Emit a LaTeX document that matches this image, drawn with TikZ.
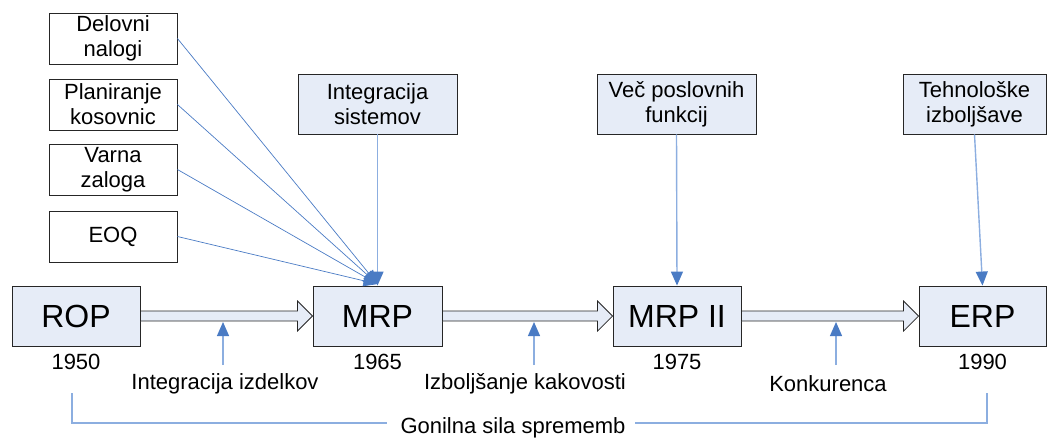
\documentclass[tikz,border=0pt]{standalone}
\usepackage{fontspec}
\setmainfont{Liberation Sans}
\usetikzlibrary{calc,arrows.meta}

\definecolor{boxfill}{HTML}{E6ECF7}
\definecolor{linkblue}{HTML}{4A7BC4}
\definecolor{lightlink}{HTML}{8CAEE0}

% hollow block arrow between two stage boxes
\newcommand\stagearrow[2]{%
  \draw[blockarrow] ($(#1.east)+(0,-5)$) -- ($(#2.west)+(-15,-5)$)
    -- ($(#2.west)+(-15,-15)$) -- (#2.west) -- ($(#2.west)+(-15,15)$)
    -- ($(#2.west)+(-15,5)$) -- ($(#1.east)+(0,5)$) -- cycle;}

\begin{document}
\begin{tikzpicture}[x=1pt,y=-1pt,
  every node/.style={font=\fontsize{22}{25}\selectfont, inner sep=0pt},
  srcbox/.style={draw=black!85, line width=0.9pt, fill=white,
    minimum width=128pt, minimum height=51pt, align=center},
  topbox/.style={draw=black!85, line width=0.9pt, fill=boxfill,
    minimum width=159pt, minimum height=60pt, align=center},
  stage/.style={draw=black!85, line width=0.9pt, fill=boxfill,
    minimum width=128pt, minimum height=60pt,
    font=\fontsize{32}{36}\selectfont},
  blockarrow/.style={draw=black!85, line width=0.8pt, fill=boxfill},
  feed/.style={draw=linkblue, line width=0.7pt,
    -{Triangle[width=11pt,length=14pt,fill=linkblue]}},
  drive/.style={draw=lightlink, line width=1.4pt,
    -{Triangle[width=12pt,length=14pt,color=linkblue,fill=linkblue]}},
  push/.style={draw=lightlink, line width=1.2pt,
    -{Triangle[width=12pt,length=14pt,color=linkblue,fill=linkblue]}},
  bracket/.style={draw=lightlink, line width=1.1pt},
]
\useasboundingbox (0,0) rectangle (1048,439);
\clip (0,0) rectangle (1048,439);

% input boxes on the left
\node[srcbox] (dn) at (113,38.5) {Delovni\\nalogi};
\node[srcbox] (pk) at (113,104.5) {Planiranje\\kosovnic};
\node[srcbox] (vz) at (113,169.5) {Varna\\zaloga};
\node[srcbox] (eoq) at (113,236.5) {EOQ};

% upper boxes
\node[topbox] (is) at (377.5,104) {Integracija\\sistemov};
\node[topbox] (vp) at (676.5,104) {Več poslovnih\\funkcij};
\node[topbox, minimum width=143pt] (ti) at (974.5,104) {Tehnološke\\izboljšave};

% stages
\node[stage] (rop) at (76,316) {ROP};
\node[stage, minimum width=129pt] (mrp) at (377.5,316) {MRP};
\node[stage] (mrp2) at (677,316) {MRP II};
\node[stage, minimum width=127pt] (erp) at (982.5,316) {ERP};

% years
\node (y1) at ($(rop.south)+(0,15)$) {1950};
\node (y2) at ($(mrp.south)+(0,15)$) {1965};
\node (y3) at ($(mrp2.south)+(0,15)$) {1975};
\node (y4) at ($(erp.south)+(0,15)$) {1990};

% block arrows between stages
\stagearrow{rop}{mrp}
\stagearrow{mrp}{mrp2}
\stagearrow{mrp2}{erp}

% converging inputs into MRP
\foreach \s in {dn,pk,vz,eoq}
  \draw[feed] (\s.east) -- ($(mrp.north)+(0,-1.5)$);

% upper boxes into stages
\draw[drive] (is.south) -- (mrp.north);
\draw[drive] (vp.south) -- (mrp2.north);
\draw[drive] (ti.south) -- (erp.north);

% drivers under the block arrows
\node (d1) at (225,384) {Integracija izdelkov};
\node (d2) at (525,384) {Izboljšanje kakovosti};
\node (d3) at (828,384) {Konkurenca};
\coordinate (f1) at (223,365);
\coordinate (f2) at (534,365);
\coordinate (f3) at (836,365);
\coordinate (t1) at (223,322);
\coordinate (t2) at (534,322);
\coordinate (t3) at (836,322);
\draw[push] (f1) -- (t1);
\draw[push] (f2) -- (t2);
\draw[push] (f3) -- (t3);

% overall bracket
\node (gon) at (513,428) {Gonilna sila sprememb};
\coordinate (bl) at (72,393);
\coordinate (br) at (987,393);
\draw[bracket] (bl) |- ($(gon.west)+(-13,-5)$);
\draw[bracket] (br) |- ($(gon.east)+(9,-5)$);
\end{tikzpicture}
\end{document}
